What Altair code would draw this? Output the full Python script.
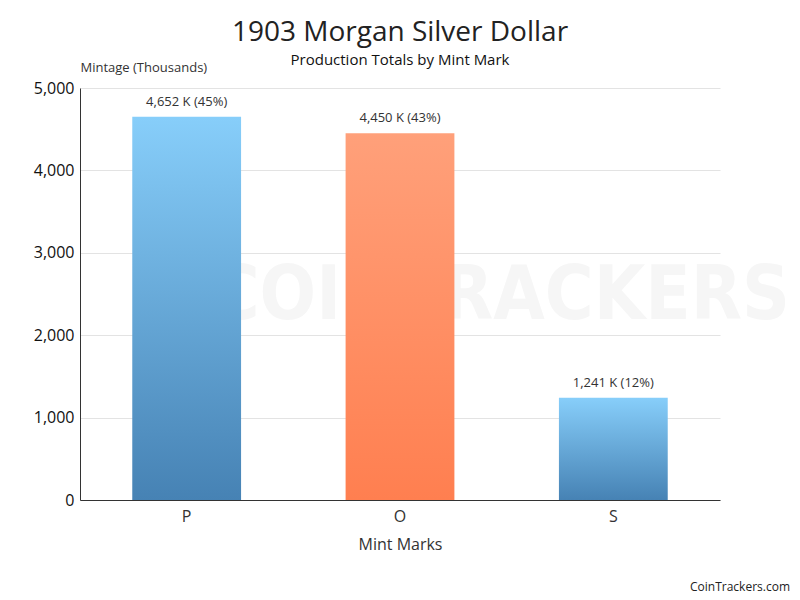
import altair as alt
import pandas as pd

mints = ["P", "O", "S"]
mintage = [4652, 4450, 1241]
shares = ["45%", "43%", "12%"]
groups = ["blue", "orange", "blue"]

df = pd.DataFrame({"mint": mints, "mintage": mintage, "share": shares, "grp": groups})
df["label"] = df.apply(lambda r: f"{r['mintage']:,} K ({r['share']})", axis=1)

FONT = "Open Sans"

x = alt.X("mint:N", sort=mints, title="Mint Marks",
          scale=alt.Scale(paddingInner=0.49, paddingOuter=0.245),
          axis=alt.Axis(labelAngle=0, labelFontSize=16, labelColor="#333", labelFont=FONT,
                        titleFontSize=16, titleFont=FONT, titleColor="#333", titleFontWeight="normal",
                        titlePadding=12, labelPadding=8, ticks=False, domainColor="#333", grid=False))
y = alt.Y("mintage:Q", title="Mintage (Thousands)",
          scale=alt.Scale(domain=[0, 5000]),
          axis=alt.Axis(values=[0, 1000, 2000, 3000, 4000, 5000], format=",.0f", labelFontSize=16,
                        labelColor="#111", labelFont=FONT, labelPadding=6, ticks=False,
                        domainColor="#333", gridColor="#e3e3e3",
                        titleAngle=0, titleX=0, titleY=-14, titleAlign="left", titleBaseline="bottom",
                        titleFontSize=13, titleFont=FONT, titleFontWeight="normal", titleColor="#333"))

blue = alt.Gradient(gradient="linear", x1=0, x2=0, y1=0, y2=1,
                    stops=[alt.GradientStop(offset=0, color="#87CEFA"),
                           alt.GradientStop(offset=1, color="#4682B4")])
orange = alt.Gradient(gradient="linear", x1=0, x2=0, y1=0, y2=1,
                      stops=[alt.GradientStop(offset=0, color="#FFA07A"),
                             alt.GradientStop(offset=1, color="#FF7F50")])

base = alt.Chart(df)

watermark = alt.Chart(pd.DataFrame({"t": ["COINTRACKERS"]})).mark_text(
    font="DejaVu Sans Condensed", fontWeight="bold", fontSize=74, color="#f6f6f6",
    align="right", baseline="middle").encode(
    text="t:N", x=alt.value(710), y=alt.value(209))

bars_blue = base.transform_filter(alt.datum.grp == "blue").mark_bar(color=blue).encode(x=x, y=y)
bars_orange = base.transform_filter(alt.datum.grp == "orange").mark_bar(color=orange).encode(x=x, y=y)

labels = base.mark_text(baseline="bottom", dy=-8, fontSize=13, font=FONT, color="#333").encode(
    x=x, y=y, text="label:N")

footer = alt.Chart(pd.DataFrame({"t": ["CoinTrackers.com"]})).mark_text(
    font=FONT, fontSize=12, color="#222", align="right", baseline="alphabetic").encode(
    text="t:N", x=alt.value(710), y=alt.value(503))

chart = alt.layer(watermark, bars_blue, bars_orange, labels, footer).properties(
    width=640, height=412,
    title=alt.TitleParams(text="1903 Morgan Silver Dollar", subtitle="Production Totals by Mint Mark",
                          fontSize=28, font=FONT, fontWeight="normal", color="#222",
                          subtitleFontSize=15, subtitleFont=FONT, subtitleColor="#111",
                          subtitlePadding=6, anchor="middle", offset=-7),
    autosize=alt.AutoSizeParams(type="none"),
    padding={"left": 80, "top": 88, "right": 80, "bottom": 100},
).configure(background="white").configure_view(stroke=None)

chart.save("out.html", embed_options={"renderer": "svg", "actions": False})
